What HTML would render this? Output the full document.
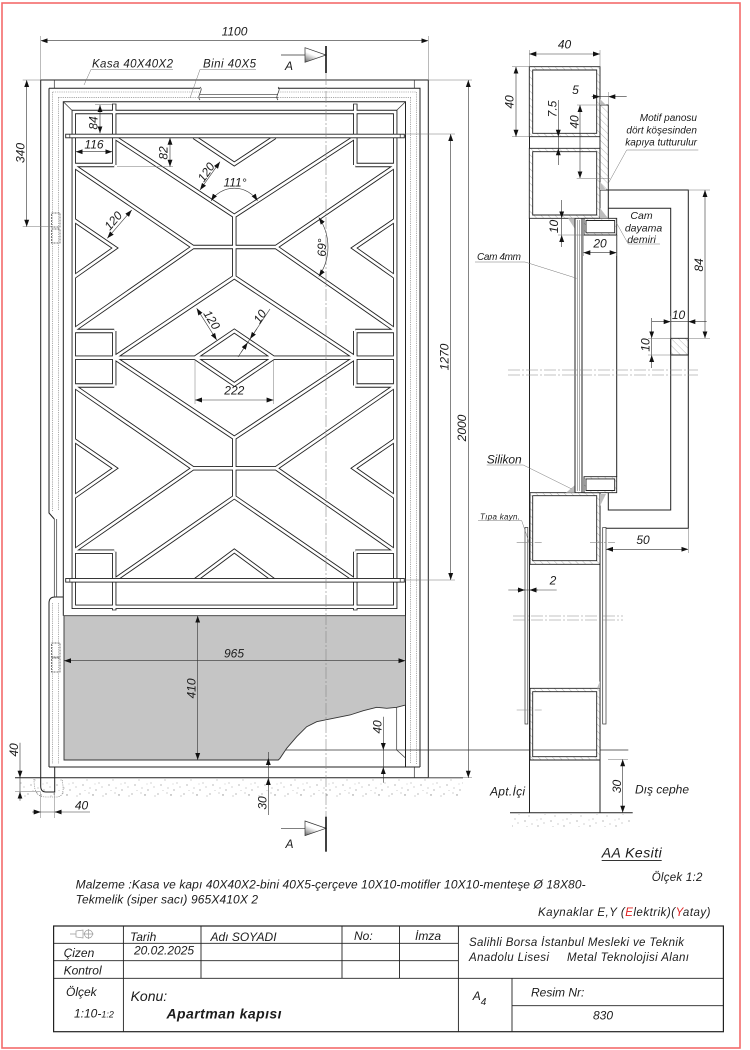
<!DOCTYPE html>
<html><head><meta charset="utf-8">
<style>
html,body{margin:0;padding:0;background:#fff;width:750px;height:1050px;overflow:hidden}
svg{display:block}
text{font-family:"Liberation Sans",sans-serif;font-style:italic;fill:#1c1c1c}
.s{stroke:#222;stroke-width:1;fill:none}
.t{stroke:#333;stroke-width:0.7;fill:none}
.d{stroke:#333;stroke-width:0.6;fill:none}
.e{stroke:#777;stroke-width:0.5;fill:none}
.h{stroke:#777;stroke-width:0.6;fill:none;stroke-dasharray:1.2 1}
.c{stroke:#888;stroke-width:0.6;fill:none;stroke-dasharray:12 2 2 2}
</style></head><body>
<svg width="750" height="1050" viewBox="0 0 750 1050" xmlns="http://www.w3.org/2000/svg">
<defs>
<marker id="ar" viewBox="0 0 10 10" refX="10" refY="5" markerWidth="7" markerHeight="7" markerUnits="userSpaceOnUse" orient="auto-start-reverse"><path d="M0,1.5 L10,5 L0,8.5 Z" fill="#111"/></marker>
<pattern id="st" width="26" height="18" patternUnits="userSpaceOnUse"><g fill="#8a8a8a"><circle cx="2" cy="2" r="0.6"/><circle cx="9" cy="6" r="0.5"/><circle cx="15" cy="3" r="0.7"/><circle cx="21" cy="9" r="0.5"/><circle cx="5" cy="11" r="0.6"/><circle cx="12" cy="14" r="0.5"/><circle cx="18" cy="16" r="0.6"/><circle cx="24" cy="13" r="0.5"/><circle cx="7" cy="16.5" r="0.4"/><circle cx="17" cy="10" r="0.4"/><circle cx="11" cy="1" r="0.5"/><circle cx="25" cy="4" r="0.5"/></g></pattern>
<pattern id="hx" width="5" height="5" patternUnits="userSpaceOnUse" patternTransform="rotate(-45)"><rect width="5" height="5" fill="#fff"/><line x1="0" y1="0" x2="0" y2="5" stroke="#999" stroke-width="0.7"/></pattern>
<linearGradient id="tg" x1="0" y1="1" x2="0.6" y2="0"><stop offset="0" stop-color="#666"/><stop offset="0.55" stop-color="#fff"/></linearGradient>
<path id="pat" d="M73.8,112 H395.2 V606.8 H73.8 Z
M114.2,104 V165 M114.2,331 V385.5 M114.2,551.7 V610 M355.3,104 V165 M355.3,331 V385.5 M355.3,551.7 V610
M73.8,165 H114.2 M355.3,165 H395.2 M73.8,331 H114.2 M355.3,331 H395.2
M73.8,385.5 H114.2 M355.3,385.5 H395.2 M73.8,551.7 H114.2 M355.3,551.7 H395.2
M73.8,357.7 H395.2
M194,137 L234.3,164 L275,137
M114.2,137 L234.3,216 L355.3,137
M234.3,216 V277 M193,247 H276
M73.8,166 L193,247 L73.8,330
M395.2,166 L276,247 L395.2,330
M114.2,357.7 L234.3,277 L355.3,357.7
M73.8,220 L115,248 L73.8,277
M395.2,220 L354,248 L395.2,277
M195,357.7 L234.3,331 L273.6,357.7 L234.3,384.4 Z
M114.2,357.7 L234.3,438 L355.3,357.7
M234.3,438 V497 M193,468.3 H276
M73.8,386 L193,468.3 L73.8,551
M395.2,386 L276,468.3 L395.2,551
M114.2,580.3 L234.3,497 L355.3,580.3
M73.8,440 L115,468.3 L73.8,497
M395.2,440 L354,468.3 L395.2,497
M195,580.3 L234.3,551 L274,580.3"/>
</defs>

<rect x="2" y="3" width="738" height="1045" fill="none" stroke="#f36b6b" stroke-width="1.6"/>

<!-- ===== ELEVATION ===== -->
<rect x="20" y="779" width="443" height="18" fill="url(#st)"/>
<path class="h" d="M34,779 C34,790 36,797 46,797 L56,797 C64,797 64,790 62,779"/>
<path class="s" stroke-width="0.8" d="M15,777.7 H463"/>

<!-- kasa -->
<path class="s" d="M40.7,786 V80 H428.3 V777.7"/>
<path class="s" d="M40.7,786 Q40.7,792 46,792 H54.7 V767"/>
<path class="t" d="M54.3,80 V88.3 M414.3,80 V88.3 M414.3,767 V777.7"/>

<!-- door leaf -->
<path class="s" d="M49,88.3 H200 M278,88.3 H420 V767 M49,767 H420 M49,88.3 V513 L54.3,519 M49,767 V603 Q49,597 55,597 H63.3"/>
<path class="t" d="M54.3,519 V597 M56.7,519 V597"/>
<path class="h" d="M52.7,92 V511 M58.3,97.4 V511 M52.7,603 V764 M58.3,603 V764 M416.3,92 V764 M410.7,97.4 V764 M52.7,92 H200 M278,92 H416.3 M58.3,97.4 H200 M278,97.4 H410.7"/>
<path class="t" d="M200,94.3 H278 M200,97.7 H278"/>
<path class="t" d="M200,87 C204,90 196,96 200,100 M278,87 C282,90 274,96 278,100"/>
<path class="s" d="M63.3,615.7 V101.7 H405.5 V767"/>
<path class="t" d="M63.3,101.7 L71.6,110 M405.5,101.7 L397,110"/>

<!-- hinges -->
<g fill="none" stroke="#444" stroke-width="0.7" stroke-dasharray="2 1">
<rect x="51.5" y="213" width="8.5" height="14"/><rect x="51.5" y="229" width="8.5" height="14"/>
<rect x="51.5" y="643" width="8.5" height="14"/><rect x="51.5" y="658" width="8.5" height="14"/>
</g>

<!-- motif pattern -->
<g fill="none" stroke-linejoin="miter" stroke-miterlimit="8">
<use href="#pat" stroke="#222" stroke-width="4.4"/>
<use href="#pat" stroke="#fff" stroke-width="2.6"/>
</g>
<path class="t" d="M112,104 H116.4 M353.1,104 H357.5 M112,610 H116.4 M353.1,610 H357.5"/>
<!-- round bars -->
<rect x="65.7" y="134.2" width="338.6" height="3.6" fill="#fff" stroke="#222" stroke-width="0.9"/>
<rect x="65.7" y="578.5" width="338.6" height="3.6" fill="#fff" stroke="#222" stroke-width="0.9"/>
<path class="t" d="M69.8,134.2 V137.8 M400.2,134.2 V137.8 M69.8,578.5 V582.1 M400.2,578.5 V582.1"/>

<!-- revealed behind cutaway -->
<path class="t" d="M280,750 H628.3"/>
<path class="t" d="M396.7,700 V750 L405.5,758"/>
<!-- kick panel -->
<path d="M64,615.7 H405.5 V705 L396.7,707.3 L386.7,708.3 L376.7,707.3 L363.3,710.7 L350,715 L333.3,718.3 L316.7,721.7 L306.7,726.7 L296.7,736.7 L286.7,748.3 L280,758.3 L278.3,760 H64 Z" fill="#c5c5c5" stroke="#333" stroke-width="0.9"/>

<!-- center line -->
<path class="c" d="M326,73 V817"/>

<!-- A markers -->
<path class="t" d="M281,55 H326"/>
<path d="M305,47.7 L326,55 L305,62.3 Z" fill="url(#tg)" stroke="#333" stroke-width="0.7"/>
<path d="M326,46 V73" stroke="#111" stroke-width="1.6"/>
<text x="289" y="70" font-size="12" text-anchor="middle">A</text>
<path class="t" d="M281,828.3 H326"/>
<path d="M305,821 L326,828.3 L305,835.6 Z" fill="url(#tg)" stroke="#333" stroke-width="0.7"/>
<path d="M326,816.7 V851.7" stroke="#111" stroke-width="1.6"/>
<text x="289.5" y="848" font-size="12" text-anchor="middle">A</text>

<!-- labels -->
<text x="92" y="67.5" font-size="11.5" textLength="81">Kasa 40X40X2</text>
<path class="e" d="M91,69.5 H173 M91,69.5 L84,85"/>
<text x="203" y="67.5" font-size="11.5" textLength="53">Bini 40X5</text>
<path class="e" d="M200,69.5 H256 M200,69.5 L190,98"/>

<!-- dims elevation -->
<g font-size="12" text-anchor="middle">
<line class="d" x1="40.7" y1="40.7" x2="428.3" y2="40.7" marker-start="url(#ar)" marker-end="url(#ar)"/>
<path class="e" d="M40.7,36 V80 M428.3,36 V80"/>
<text x="234.5" y="35.5">1100</text>

<line class="d" x1="26.7" y1="80" x2="26.7" y2="226.7" marker-start="url(#ar)" marker-end="url(#ar)"/>
<path class="e" d="M22.7,80 H40.7 M22.7,226.7 H53"/>
<text transform="translate(24.5,153) rotate(-90)">340</text>

<path class="e" d="M428.3,80 H472 M405,134 H455 M405,580 H455 M428.3,777.7 H472"/>
<line class="d" x1="450.7" y1="134" x2="450.7" y2="580" marker-start="url(#ar)" marker-end="url(#ar)"/>
<text transform="translate(448.3,357) rotate(-90)">1270</text>
<line class="d" x1="468.3" y1="80" x2="468.3" y2="777.7" marker-start="url(#ar)" marker-end="url(#ar)"/>
<text transform="translate(466,428) rotate(-90)">2000</text>

<path class="e" d="M95,104.5 H112"/>
<line class="d" x1="100" y1="105" x2="100" y2="133.3" marker-start="url(#ar)" marker-end="url(#ar)"/>
<text transform="translate(97.5,123) rotate(-90)">84</text>
<line class="d" x1="75.7" y1="151.7" x2="112.3" y2="151.7" marker-start="url(#ar)" marker-end="url(#ar)"/>
<text x="94" y="148.5">116</text>
<line class="d" x1="170" y1="137.8" x2="170" y2="166.7" marker-start="url(#ar)" marker-end="url(#ar)"/>
<path class="e" d="M117,166.7 H173"/>
<text transform="translate(167.5,153) rotate(-90)">82</text>

<line class="d" x1="200" y1="190" x2="220" y2="161.7" marker-start="url(#ar)" marker-end="url(#ar)"/>
<text transform="translate(209.5,174.5) rotate(-55)">120</text>
<path class="d" d="M211.1,200.8 A27.7,27.7 0 0 1 257.5,200.8" marker-start="url(#ar)" marker-end="url(#ar)"/>
<text x="235" y="186.5">111°</text>
<line class="d" x1="107.3" y1="238.3" x2="131.7" y2="210" marker-start="url(#ar)" marker-end="url(#ar)"/>
<text transform="translate(116.3,223.4) rotate(-49)">120</text>
<path class="d" d="M318.8,217.5 A52,52 0 0 1 318.8,276.5" marker-start="url(#ar)" marker-end="url(#ar)"/>
<text transform="translate(326,247.5) rotate(-90)">69°</text>

<line class="d" x1="196.7" y1="308.3" x2="216.7" y2="340" marker-start="url(#ar)" marker-end="url(#ar)"/>
<text transform="translate(208.3,322) rotate(58)">120</text>
<path class="d" d="M270,309 L238,357"/>
<path class="d" d="M257,328.6 L250,339" marker-end="url(#ar)"/>
<path class="d" d="M241,352.5 L247.6,342.6" marker-end="url(#ar)"/>
<text transform="translate(263.3,318.9) rotate(-56)">10</text>

<line class="d" x1="195" y1="400" x2="273.6" y2="400" marker-start="url(#ar)" marker-end="url(#ar)"/>
<path class="e" d="M195,359 V404 M273.6,359 V404"/>
<text x="234.3" y="394.5">222</text>

<line class="d" x1="64" y1="660.7" x2="405.5" y2="660.7" marker-start="url(#ar)" marker-end="url(#ar)"/>
<text x="234" y="657.5">965</text>
<line class="d" x1="197.7" y1="615.7" x2="197.7" y2="760" marker-start="url(#ar)" marker-end="url(#ar)"/>
<text transform="translate(195.5,688.5) rotate(-90)">410</text>

<path class="d" d="M383.3,716.7 V782.7"/>
<path class="d" d="M383.3,742 V750" marker-end="url(#ar)"/>
<path class="d" d="M383.3,775 V767" marker-end="url(#ar)"/>
<text transform="translate(381.5,727) rotate(-90)">40</text>

<path class="d" d="M268.3,752 V815"/>
<path class="d" d="M268.3,766 V758" marker-end="url(#ar)"/>
<path class="d" d="M268.3,786 V778" marker-end="url(#ar)"/>
<text transform="translate(266.5,803) rotate(-90)">30</text>

<path class="d" d="M20,742.7 V800.7"/>
<path class="d" d="M20,770 V777.7" marker-end="url(#ar)"/>
<path class="d" d="M20,799 V791.7" marker-end="url(#ar)"/>
<path class="e" d="M15,791.7 H40.7"/>
<text transform="translate(18,750) rotate(-90)">40</text>

<path class="d" d="M32,812 H90"/>
<path class="d" d="M33,812 H40.7" marker-end="url(#ar)"/>
<path class="d" d="M62,812 H54.7" marker-end="url(#ar)"/>
<path class="e" d="M40.7,792 V818 M54.7,792 V818"/>
<text x="81.5" y="809.5">40</text>
</g>

<!-- ===== SECTION AA ===== -->
<path class="s" d="M529.5,66.7 V812.7 M600,136.7 V148.3 M600,492.7 V812.7"/>
<g stroke="#222" stroke-width="0.9" fill="url(#hx)" fill-rule="evenodd">
<path d="M529.3,66.7 H600 V136.7 H529.3 Z M532.7,70 H596.7 V133.3 H532.7 Z"/>
<path d="M529.3,148.3 H600 V218.3 H529.3 Z M532.7,151.7 H596.7 V215 H532.7 Z"/>
<path d="M530,492.7 H600 V564.3 H530 Z M532.7,495.7 H596.7 V560.7 H532.7 Z"/>
<path d="M530,688.3 H600 V760 H530 Z M532.7,691.7 H596.7 V756.7 H532.7 Z"/>
<path d="M600,105 H608.3 V190 H600 Z"/>
<path d="M584,218.3 H616.7 V235 H584 Z M586,220.5 H614.7 V232.8 H586 Z"/>
<path d="M584,476.7 H616.7 V492.7 H584 Z M586,478.9 H614.7 V490.5 H586 Z"/>
<path d="M670.7,338.3 H688.3 V355 H670.7 Z"/>
</g>
<g fill="#bdbdbd">
<path d="M600,99 L606,105 L600,105 Z"/>
<path d="M600,182 L606,190 L600,190 Z"/>
<path d="M600,208 L608,218.3 L600,218.3 Z"/>
<path d="M568,218.3 L575,218.3 L575,229 Z"/>
<path d="M566,492.7 L575,492.7 L575,485 Z"/>
<path d="M600,494 L606,494 L600,506 Z"/>
<path d="M597,688.3 L600,681 L600,688.3 Z"/>
</g>
<path class="s" d="M575,218.3 V492.7 M582,218.3 V492.7"/>
<path stroke="#555" stroke-width="0.5" fill="none" d="M577.3,220 V491 M579.7,220 V491"/>
<path class="s" d="M608.3,190 H688.3 V528.3 H602.7"/>
<path class="s" d="M608.3,190 V218.3 M608.3,208.3 H670.7 V510 H608.3 V492.7"/>
<path class="s" d="M616.7,235 V476.7"/>
<rect x="525" y="527.5" width="2.8" height="196.5" fill="#fff" stroke="#333" stroke-width="0.7"/>
<rect x="602.7" y="527.5" width="3.3" height="196.5" fill="#fff" stroke="#333" stroke-width="0.7"/>
<path class="c" stroke="#555" d="M508,370 H698 M508,375 H698 M513,616 H623 M513,620 H623"/>
<path class="c" stroke-dasharray="8 2 2 2" d="M516.7,542.7 H541.7 M590,542.7 H615 M516.7,710 H541.7"/>

<rect x="512" y="814" width="118" height="14" fill="url(#st)"/>
<path class="s" stroke-width="0.8" d="M510,812.7 H632.7"/>

<!-- section dims -->
<g font-size="12" text-anchor="middle">
<line class="d" x1="529.3" y1="54" x2="600" y2="54" marker-start="url(#ar)" marker-end="url(#ar)"/>
<path class="e" d="M529.3,50 V66.7 M600,50 V66.7"/>
<text x="564.5" y="48.5">40</text>
<line class="d" x1="516" y1="66.7" x2="516" y2="136.7" marker-start="url(#ar)" marker-end="url(#ar)"/>
<path class="e" d="M512,66.7 H529.3 M512,136.7 H529.3"/>
<text transform="translate(513.5,102) rotate(-90)">40</text>

<path class="d" d="M591.7,96.7 H626.7"/>
<path class="d" d="M592,96.7 H600" marker-end="url(#ar)"/>
<path class="d" d="M616,96.7 H608.3" marker-end="url(#ar)"/>
<path class="e" d="M608.3,92 V105"/>
<text x="575.5" y="94">5</text>

<path class="d" d="M558.3,100 V165"/>
<path class="d" d="M558.3,129 V136.7" marker-end="url(#ar)"/>
<path class="d" d="M558.3,156 V148.3" marker-end="url(#ar)"/>
<text transform="translate(556.5,109) rotate(-90)">7.5</text>

<line class="d" x1="580" y1="105" x2="580" y2="178.3" marker-start="url(#ar)" marker-end="url(#ar)"/>
<path class="e" d="M577,105 H606.7 M576.7,178.3 H610"/>
<text transform="translate(578.5,122) rotate(-90)">40</text>

<path class="d" d="M561.7,200 V247"/>
<path class="d" d="M561.7,210.5 V218.3" marker-end="url(#ar)"/>
<path class="d" d="M561.7,243 V235" marker-end="url(#ar)"/>
<path class="e" d="M558,235 H584"/>
<text transform="translate(558,226.5) rotate(-90)">10</text>

<line class="d" x1="583.3" y1="252.7" x2="616.7" y2="252.7" marker-start="url(#ar)" marker-end="url(#ar)"/>
<path class="e" d="M583.3,235 V256 M616.7,235 V256"/>
<text x="600" y="247.5">20</text>

<line class="d" x1="705" y1="190" x2="705" y2="338.3" marker-start="url(#ar)" marker-end="url(#ar)"/>
<path class="e" d="M688.3,190 H710 M688.3,338.3 H710"/>
<text transform="translate(703,265) rotate(-90)">84</text>

<path class="d" d="M651.7,321.7 H706.7"/>
<path class="d" d="M663,321.7 H670.7" marker-end="url(#ar)"/>
<path class="d" d="M696,321.7 H688.3" marker-end="url(#ar)"/>
<path class="e" d="M670.7,316 V338.3"/>
<text x="678.5" y="319">10</text>

<path class="d" d="M651.7,318 V368"/>
<path class="d" d="M651.7,330.5 V338.3" marker-end="url(#ar)"/>
<path class="d" d="M651.7,363 V355" marker-end="url(#ar)"/>
<path class="e" d="M648,338.3 H670.7 M648,355 H670.7"/>
<text transform="translate(649.5,345) rotate(-90)">10</text>

<line class="d" x1="606" y1="549.3" x2="688.3" y2="549.3" marker-start="url(#ar)" marker-end="url(#ar)"/>
<path class="e" d="M688.3,528.3 V553"/>
<text x="643" y="544">50</text>

<path class="d" d="M508.3,590 H556.7"/>
<path class="d" d="M517,590 H525" marker-end="url(#ar)"/>
<path class="d" d="M538,590 H529.5" marker-end="url(#ar)"/>
<text x="553" y="584.5">2</text>

<line class="d" x1="622.7" y1="759.3" x2="622.7" y2="812.7" marker-start="url(#ar)" marker-end="url(#ar)"/>
<path class="e" d="M608,759.3 H628"/>
<text transform="translate(621,786.5) rotate(-90)">30</text>
</g>

<!-- section labels -->
<g font-size="10" text-anchor="end">
<text x="697" y="121">Motif panosu</text>
<text x="697" y="133.5">dört köşesinden</text>
<text x="697" y="145.5">kapıya tutturulur</text>
</g>
<path class="e" d="M626.7,150 H698.3 M626.7,150 L608.3,183.3"/>
<g font-size="10.5" text-anchor="middle">
<text x="641.5" y="219">Cam</text>
<text x="643.5" y="231.5">dayama</text>
<text x="641.5" y="243">demiri</text>
</g>
<path class="e" d="M628.3,244 H660 M628.3,244 L616.7,223.3"/>
<text x="477" y="260" font-size="10" textLength="44">Cam 4mm</text>
<path class="e" d="M475,262 H525 L576.7,278.3"/>
<text x="486.7" y="463.3" font-size="12" textLength="35">Silikon</text>
<path class="e" d="M486.7,465 H523.3 L571.7,489"/>
<text x="480" y="519.5" font-size="8" textLength="40">Tıpa kayn.</text>
<path class="e" d="M478,520.7 H521.7 L529,542"/>
<text x="490" y="795.5" font-size="12" textLength="35">Apt.İçi</text>
<text x="635" y="793.5" font-size="12" textLength="54">Dış cephe</text>
<text x="601.7" y="857.5" font-size="14" textLength="60">AA Kesiti</text>
<path stroke="#333" stroke-width="0.9" d="M601.7,860.5 H661.7"/>
<text x="651.7" y="881" font-size="11.5" textLength="50.7">Ölçek 1:2</text>

<!-- notes -->
<text x="75.6" y="888.5" font-size="12" textLength="510">Malzeme :Kasa ve kapı 40X40X2-bini 40X5-çerçeve 10X10-motifler 10X10-menteşe Ø 18X80-</text>
<text x="75.6" y="903.5" font-size="12" textLength="182.5">Tekmelik (siper sacı) 965X410X 2</text>
<text x="538" y="916" font-size="11.5" textLength="172.5">Kaynaklar E,Y (<tspan fill="#e02020">E</tspan>lektrik)(<tspan fill="#e02020">Y</tspan>atay)</text>

<!-- ===== TITLE BLOCK ===== -->
<g stroke="#222" fill="none">
<rect x="53.6" y="926" width="669.8" height="105.7" stroke-width="1.2"/>
<path stroke-width="0.9" d="M53.6,943.3 H458.4 M53.6,960.7 H458.4 M53.6,978.3 H723.4 M512,1005.7 H723.4 M123.4,926 V1031.7 M201,926 V978.3 M342,926 V978.3 M399.5,926 V978.3 M458.4,926 V1031.7 M512,978.3 V1031.7"/>
</g>
<g stroke="#999" stroke-width="0.7" fill="none">
<path d="M70,934 H76 M76,931 L83,930 V938 L76,937 Z"/>
<circle cx="88.5" cy="934" r="4"/>
<path d="M83.5,934 H93.5 M88.5,929 V939"/>
</g>
<g font-size="12">
<text x="130" y="941">Tarih</text>
<text x="210.5" y="941">Adı SOYADI</text>
<text x="354" y="940">No:</text>
<text x="415" y="940">İmza</text>
<text x="63.6" y="957">Çizen</text>
<text x="134" y="954.5">20.02.2025</text>
<text x="63.6" y="974.5">Kontrol</text>
<text x="469" y="946" font-size="11.5" textLength="215">Salihli Borsa İstanbul Mesleki ve Teknik</text>
<text x="469" y="961" font-size="11.5" textLength="80">Anadolu Lisesi</text>
<text x="567" y="961" font-size="11.5" textLength="122">Metal Teknolojisi Alanı</text>
<text x="66" y="996">Ölçek</text>
<text x="74" y="1017.3">1:10-<tspan font-size="9">1:2</tspan></text>
<text x="130.6" y="1001" font-size="14">Konu:</text>
<text x="166.5" y="1018.3" font-size="14" font-weight="bold" textLength="115">Apartman kapısı</text>
<text x="472.7" y="1000">A<tspan font-size="10" dy="5">4</tspan></text>
<text x="531" y="996.5">Resim Nr:</text>
<text x="593" y="1019.5">830</text>
</g>
</svg>
</body></html>
